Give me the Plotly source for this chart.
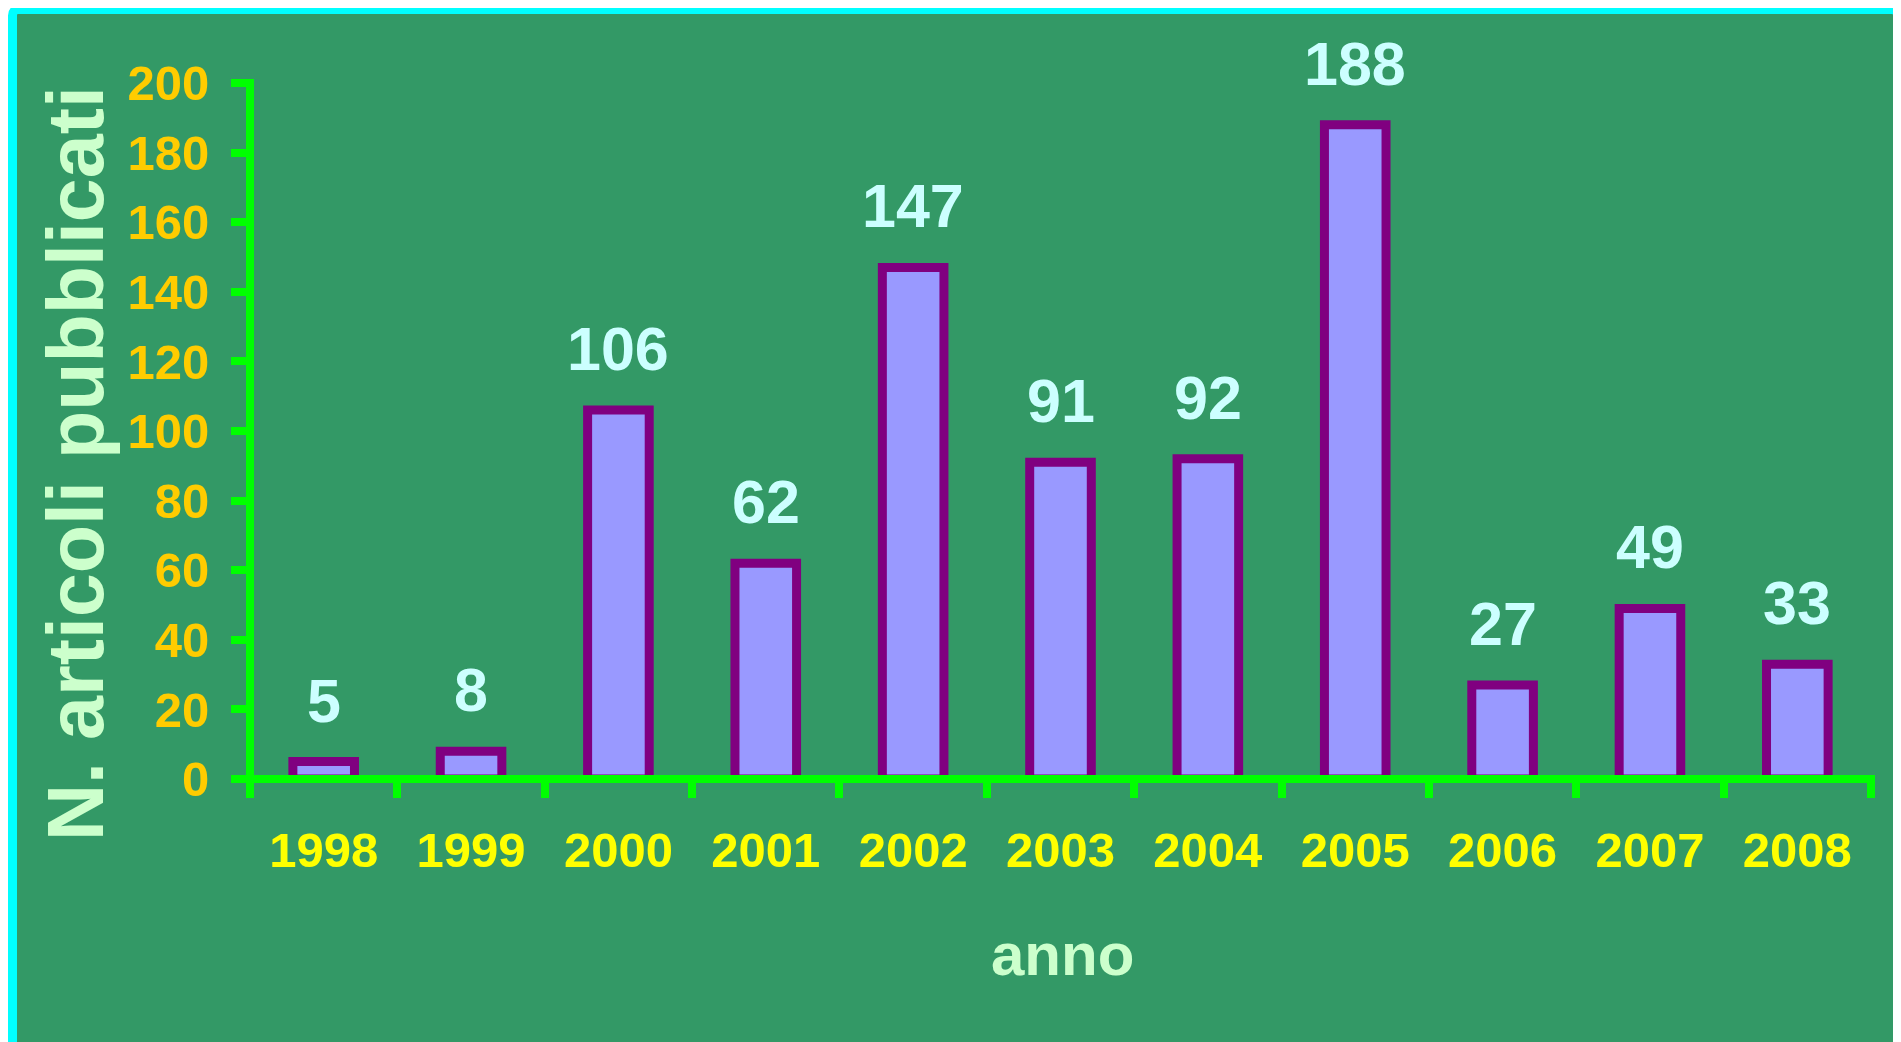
import plotly.graph_objects as go

years = ["1998", "1999", "2000", "2001", "2002", "2003", "2004", "2005", "2006", "2007", "2008"]
articles = [5, 8, 106, 62, 147, 91, 92, 188, 27, 49, 33]
y_ticks = [0, 20, 40, 60, 80, 100, 120, 140, 160, 180, 200]

# the page body has an 8px margin, so the figure is sized to fit the window
W, H = 1893, 1034
L, R, T, B = 242, 30, 75, 263
PW = W - L - R
PH = H - T - B
FONT = "Liberation Sans, Arial, sans-serif"
GREEN_LINE = "#00FF00"

def px_x(p):
    return (p - L) / PW

def px_y(p):
    return (H - B - p) / PH

fig = go.Figure()
fig.add_trace(go.Bar(
    x=years, y=articles, width=0.418,
    marker=dict(color="#9999FF", line=dict(color="#800080", width=9)),
    hoverinfo="x+y",
))

annotations = []
for i, v in enumerate(articles):
    annotations.append(dict(
        x=i, y=v, xref="x", yref="y", text=str(v), showarrow=False,
        yanchor="bottom", yshift=25,
        font=dict(family=FONT, size=61, color="#CCFFFF", weight="bold"),
    ))

annotations.append(dict(
    x=px_x(1054), y=px_y(947), xref="paper", yref="paper", text="anno",
    showarrow=False, xanchor="center", yanchor="middle",
    font=dict(family=FONT, size=60, color="#CCFFCC", weight="bold"),
))
annotations.append(dict(
    x=px_x(67), y=px_y(456), xref="paper", yref="paper", text="N. articoli pubblicati",
    showarrow=False, xanchor="center", yanchor="middle", textangle=-90,
    font=dict(family=FONT, size=79, color="#CCFFCC", weight="bold"),
))

# rounded frame
x0, x1 = px_x(4.5), px_x(1889.5)
y0, y1 = px_y(1060), px_y(1.5)
rx, ry = 6 / PW, 6 / PH
frame_path = (
    f"M{x0+rx},{y1} L{x1-rx},{y1} Q{x1},{y1} {x1},{y1-ry} "
    f"L{x1},{y0+ry} Q{x1},{y0} {x1-rx},{y0} L{x0+rx},{y0} "
    f"Q{x0},{y0} {x0},{y0+ry} L{x0},{y1-ry} Q{x0},{y1} {x0+rx},{y1} Z"
)

shapes = [
    dict(type="path", xref="paper", yref="paper", layer="below", path=frame_path,
         fillcolor="#339966", line=dict(color="#00FFFF", width=9)),
    # axis lines centred on the plot edges
    dict(type="line", xref="paper", yref="paper", layer="above",
         x0=0, x1=1 + 4 / PW, y0=0, y1=0,
         line=dict(color=GREEN_LINE, width=8)),
    dict(type="line", xref="paper", yref="paper", layer="above",
         x0=0, x1=0, y0=-4 / PH, y1=1 + 4 / PH,
         line=dict(color=GREEN_LINE, width=8)),
]

fig.update_layout(
    width=W, height=H,
    margin=dict(l=L, r=R, t=T, b=B, autoexpand=False),
    paper_bgcolor="white",
    plot_bgcolor="rgba(0,0,0,0)",
    showlegend=False,
    annotations=annotations,
    shapes=shapes,
    xaxis=dict(
        type="category", tickson="boundaries",
        range=[-0.5, len(years) - 0.5],
        showline=False,
        ticks="outside", ticklen=18, tickwidth=8, tickcolor=GREEN_LINE,
        tickfont=dict(family=FONT, size=49, color="#FFFF00", weight="bold"),
        tickangle=0, ticklabelstandoff=38,
        showgrid=False, zeroline=False, fixedrange=True,
    ),
    yaxis=dict(
        range=[0, 200], tickvals=y_ticks,
        showline=False,
        ticks="outside", ticklen=18, tickwidth=8, tickcolor=GREEN_LINE,
        tickfont=dict(family=FONT, size=49, color="#FFCC00", weight="bold"),
        ticklabelstandoff=12,
        showgrid=False, zeroline=False, fixedrange=True,
    ),
)

fig.write_html("out.html")
